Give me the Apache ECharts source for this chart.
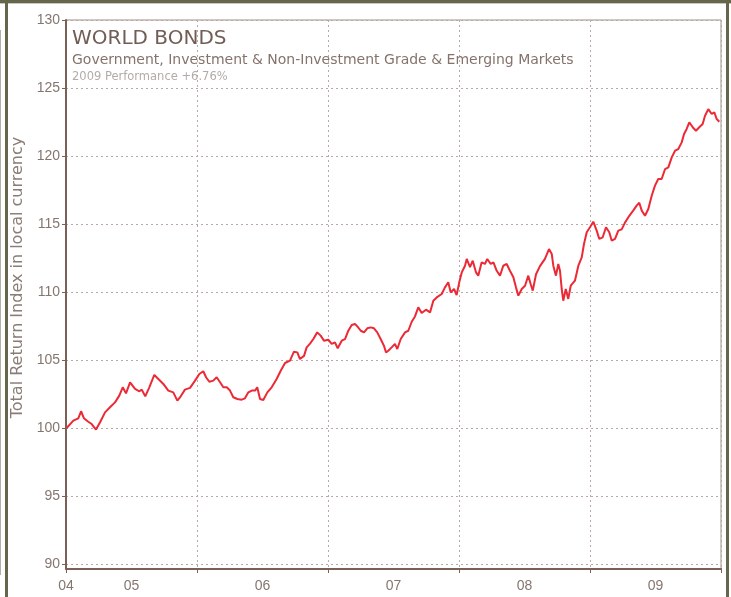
<!DOCTYPE html>
<html>
<head>
<meta charset="utf-8">
<script src="https://cdn.jsdelivr.net/npm/echarts@6/dist/echarts.min.js"></script>
<style>
html,body{margin:0;padding:0;background:#fff;}
#c{width:731px;height:597px;}
</style>
</head>
<body>
<div id="c"></div>
<script>
// ---- data (decimal years, index values) ----
const years = [2004.005,2004.056,2004.094,2004.115,2004.137,2004.170,2004.196,2004.208,2004.229,2004.260,2004.298,2004.336,2004.374,2004.407,2004.433,2004.458,2004.489,2004.527,2004.560,2004.578,2004.605,2004.636,2004.674,2004.705,2004.743,2004.781,2004.819,2004.850,2004.876,2004.908,2004.947,2004.985,2005.018,2005.048,2005.069,2005.094,2005.124,2005.150,2005.176,2005.201,2005.227,2005.252,2005.277,2005.308,2005.341,2005.366,2005.392,2005.418,2005.443,2005.460,2005.481,2005.506,2005.537,2005.570,2005.608,2005.639,2005.672,2005.710,2005.740,2005.766,2005.786,2005.817,2005.837,2005.863,2005.888,2005.918,2005.944,2005.969,2006.002,2006.028,2006.053,2006.074,2006.105,2006.130,2006.155,2006.181,2006.206,2006.224,2006.250,2006.275,2006.300,2006.326,2006.351,2006.376,2006.402,2006.427,2006.443,2006.460,2006.486,2006.511,2006.529,2006.555,2006.588,2006.613,2006.639,2006.664,2006.689,2006.715,2006.748,2006.779,2006.804,2006.830,2006.868,2006.893,2006.918,2006.937,2006.962,2006.982,2007.002,2007.021,2007.046,2007.059,2007.084,2007.105,2007.130,2007.147,2007.173,2007.198,2007.216,2007.242,2007.263,2007.288,2007.313,2007.338,2007.364,2007.389,2007.415,2007.435,2007.453,2007.479,2007.504,2007.529,2007.547,2007.563,2007.588,2007.618,2007.656,2007.687,2007.708,2007.720,2007.740,2007.758,2007.771,2007.784,2007.796,2007.815,2007.834,2007.853,2007.885,2007.911,2007.937,2007.954,2007.975,2008.000,2008.025,2008.051,2008.071,2008.097,2008.122,2008.147,2008.166,2008.191,2008.216,2008.242,2008.267,2008.300,2008.331,2008.356,2008.376,2008.395,2008.420,2008.445,2008.471,2008.496,2008.521,2008.547,2008.573,2008.598,2008.624,2008.649,2008.674,2008.700,2008.718,2008.738,2008.758,2008.784,2008.809,2008.834,2008.860,2008.878,2008.903,2008.929,2008.949,2008.967,2008.987];
const values = [100.0,100.54,100.71,101.23,100.71,100.46,100.29,100.17,99.88,100.42,101.15,101.52,101.88,102.38,102.99,102.55,103.36,102.87,102.70,102.82,102.33,102.99,103.90,103.60,103.24,102.75,102.62,102.01,102.33,102.82,102.95,103.48,103.97,104.17,103.73,103.40,103.48,103.73,103.36,102.99,102.99,102.75,102.26,102.13,102.08,102.18,102.62,102.75,102.75,102.99,102.13,102.06,102.62,102.99,103.60,104.21,104.78,104.95,105.61,105.56,105.07,105.30,105.93,106.20,106.54,107.03,106.79,106.42,106.49,106.18,106.30,105.86,106.42,106.54,107.15,107.57,107.65,107.47,107.15,107.03,107.33,107.40,107.33,107.03,106.54,106.05,105.56,105.68,105.93,106.18,105.81,106.54,107.03,107.15,107.81,108.20,108.87,108.45,108.70,108.50,109.36,109.60,109.85,110.34,110.71,109.97,110.22,109.78,110.71,111.44,111.93,112.43,111.82,112.30,111.44,111.20,112.18,112.06,112.43,112.06,112.18,111.56,111.20,111.93,112.06,111.56,111.08,110.34,109.73,110.22,110.46,111.20,110.59,110.10,111.30,111.90,112.43,113.16,112.80,111.93,111.20,112.06,111.56,110.22,109.36,110.22,109.49,110.46,110.83,111.93,112.55,113.53,114.39,114.76,115.17,114.51,113.90,114.02,114.76,114.39,113.77,113.90,114.51,114.60,115.10,115.60,116.00,116.35,116.56,115.98,115.61,116.10,117.08,117.82,118.31,118.31,119.04,119.16,119.90,120.39,120.51,121.00,121.62,121.99,122.48,122.11,121.86,122.11,122.35,122.96,123.45,123.09,123.21,122.72,122.52];
const yTicks = [90,95,100,105,110,115,120,125,130];
const xLabelPos = [2004, 2004.5, 2005.5, 2006.5, 2007.5, 2008.5];
const xLabels = ['04','05','06','07','08','09'];
const titleText = 'WORLD BONDS';
const subText = 'Government, Investment & Non-Investment Grade & Emerging Markets';
const perfText = '2009 Performance +6.76%';
const yName = 'Total Return Index in local currency';

const chart = echarts.init(document.getElementById('c'), null, {renderer: 'canvas'});
const axisCol = '#7a6057';
const labCol = '#857670';
const gridCol = '#b7aaa4';
const fam = '"DejaVu Sans", sans-serif';

chart.setOption({
  animation: false,
  backgroundColor: '#ffffff',
  title: [
    {text: titleText, left: 72, top: 29, padding: 0,
     textStyle: {fontFamily: fam, fontSize: 20, fontWeight: 'normal', color: '#705d56'}},
    {text: subText, left: 72, top: 53, padding: 0,
     textStyle: {fontFamily: fam, fontSize: 14, fontWeight: 'normal', color: '#85736c'}},
    {text: perfText, left: 72, top: 71, padding: 0,
     textStyle: {fontFamily: fam, fontSize: 11.5, fontWeight: 'normal', color: '#b4aba7'}}
  ],
  grid: {left: 66, right: 10, top: 20, bottom: 28, show: true, borderColor: '#a08c84', borderWidth: 1, backgroundColor: 'transparent'},
  xAxis: [
    {type: 'value', min: 2004, max: 2009, interval: 1, position: 'bottom',
     axisLine: {show: true, lineStyle: {color: axisCol, width: 2}},
     axisTick: {show: true, length: 4, lineStyle: {color: axisCol}},
     axisLabel: {show: false},
     splitLine: {show: true, lineStyle: {color: gridCol, type: [2, 3], width: 1}}},
    {type: 'value', min: 2004, max: 2009, interval: 0.5, position: 'bottom',
     axisLine: {show: false}, axisTick: {show: false}, splitLine: {show: false},
     axisLabel: {show: true, margin: 10, color: labCol, fontFamily: '"Liberation Sans", Arial, sans-serif', fontSize: 14,
       formatter: function (v) {
         for (let i = 0; i < xLabelPos.length; i++) { if (Math.abs(v - xLabelPos[i]) < 1e-6) return xLabels[i]; }
         return '';
       }}}
  ],
  yAxis: {
    type: 'value', min: 89.63, max: 130,
    name: yName, nameLocation: 'middle', nameGap: 39, nameRotate: 90,
    nameTextStyle: {fontFamily: fam, fontSize: 16, color: '#8a7c76', padding: [0, 0, 0, 34]},
    axisLine: {show: true, lineStyle: {color: axisCol, width: 2}},
    axisTick: {show: true, length: 4, customValues: yTicks, lineStyle: {color: axisCol}},
    axisLabel: {show: true, customValues: yTicks, margin: 6, color: labCol, fontFamily: '"Liberation Sans", Arial, sans-serif', fontSize: 14},
    splitLine: {show: true, customValues: yTicks, lineStyle: {color: gridCol, type: [2, 3], width: 1}}
  },
  series: [{
    type: 'line', xAxisIndex: 0, showSymbol: false, symbol: 'none',
    lineStyle: {color: '#ec2a36', width: 2},
    data: years.map((y, i) => [y, values[i]])
  }],
  graphic: [
    {type: 'rect', shape: {x: 0, y: 0, width: 731, height: 3}, style: {fill: '#66664c'}, silent: true},
    {type: 'rect', shape: {x: 0, y: 3, width: 731, height: 1}, style: {fill: '#c8c8bc'}, silent: true},
    {type: 'rect', shape: {x: 5, y: 0, width: 3, height: 597}, style: {fill: '#66664c'}, silent: true},
    {type: 'rect', shape: {x: 0, y: 30, width: 1, height: 545}, style: {fill: '#b0b0a4'}, silent: true},
    {type: 'rect', shape: {x: 726, y: 0, width: 3, height: 597}, style: {fill: '#66664c'}, silent: true}
  ]
});
</script>
</body>
</html>
